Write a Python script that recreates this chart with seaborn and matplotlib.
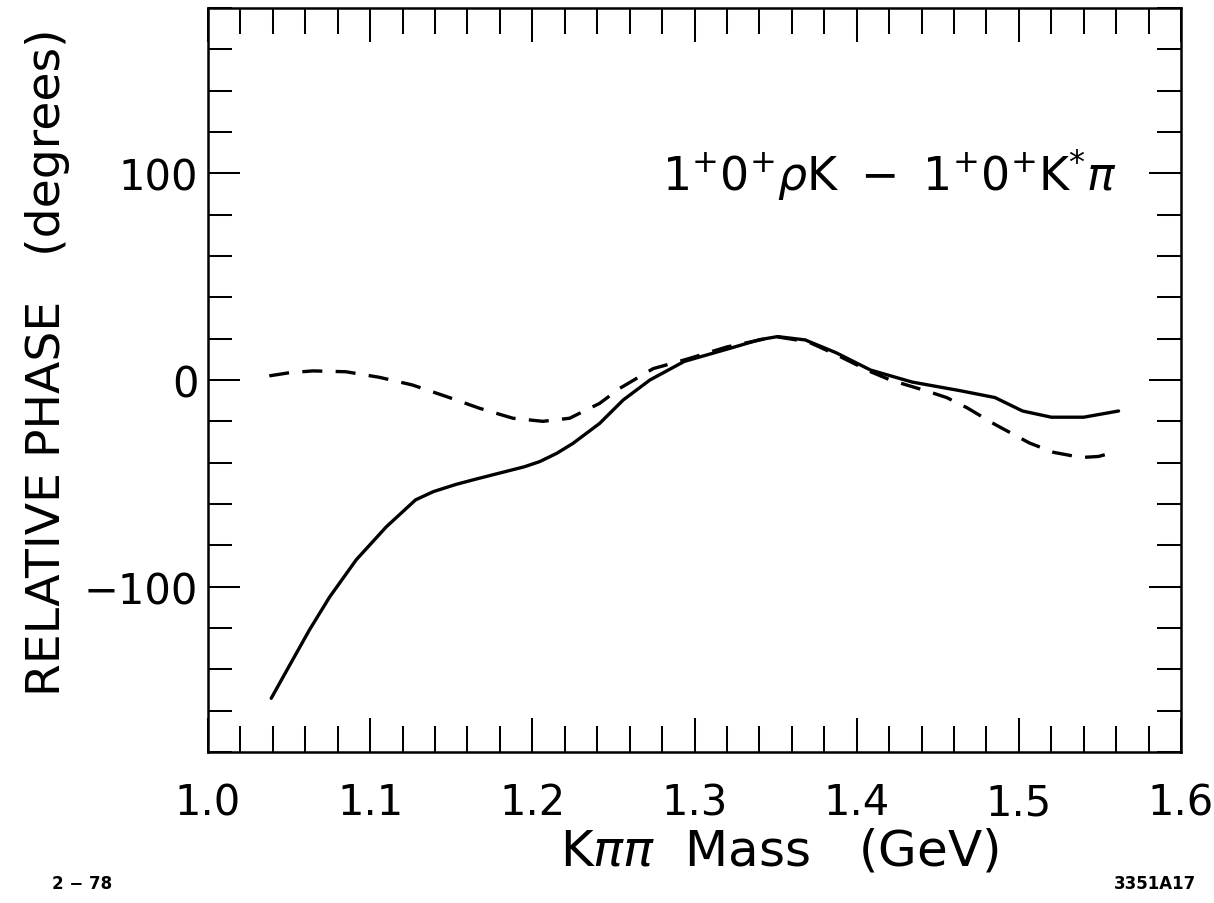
import matplotlib
matplotlib.use("Agg")
import matplotlib.pyplot as plt
from matplotlib.ticker import FixedLocator, MultipleLocator
import pandas as pd
import seaborn as sns

# ---- data ----
mass_solid = [1.039, 1.050, 1.0625, 1.075, 1.0914, 1.110, 1.128, 1.139, 1.153,
              1.165, 1.180, 1.195, 1.2045, 1.215, 1.225, 1.2415, 1.256, 1.2725,
              1.2937, 1.3235, 1.340, 1.3512, 1.3682, 1.3873, 1.4086, 1.4342,
              1.464, 1.4853, 1.5023, 1.520, 1.540, 1.5615]
phase_solid = [-154, -138.5, -121, -105, -87, -71, -58, -54, -50.5,
               -48, -45, -42, -39.5, -35.5, -30.7, -21, -9.7, 0,
               9, 15.7, 19.5, 21, 19.4, 13.2, 4.8, -1.0,
               -5.2, -8.5, -15.0, -18, -18, -15]

mass_dashed = [1.0378, 1.050, 1.0646, 1.085, 1.1057, 1.126, 1.147, 1.1675,
               1.188, 1.2065, 1.223, 1.2415, 1.254, 1.2745, 1.295, 1.320,
               1.350, 1.370, 1.3873, 1.4086, 1.4214, 1.4427, 1.4555, 1.4682,
               1.4853, 1.5066, 1.5214, 1.5385, 1.5491, 1.5608]
phase_dashed = [2, 3.5, 4.4, 4, 1.3, -2.4, -8, -13.7,
                -18.5, -20, -18.5, -11.3, -4, 5.5, 10, 16,
                21, 18.5, 12.3, 4.0, -0.2, -5.2, -8.5, -13.5,
                -21.5, -30.5, -35, -37.5, -37, -34.5]

x_major_ticks = [1.0, 1.1, 1.2, 1.3, 1.4, 1.5, 1.6]
x_tick_labels = ["1.0", "1.1", "1.2", "1.3", "1.4", "1.5", "1.6"]
y_major_ticks = [-100, 0, 100]
y_tick_labels = ["\u2212100", "0", "100"]

annotation = r"$\mathrm{1^{+}0^{+}}\rho\mathrm{K\ -\ 1^{+}0^{+}K^{*}}\pi$"
x_label = r"K$\pi\pi$  Mass   (GeV)"
y_label = "RELATIVE PHASE   (degrees)"

# ---- style ----
sns.set_theme(style="ticks")
plt.rcParams["font.family"] = ["DejaVu Sans"]
plt.rcParams["mathtext.fontset"] = "dejavusans"
plt.rcParams["mathtext.default"] = "it"

W, H = 1214, 904
fig = plt.figure(figsize=(W / 100, H / 100), dpi=100)
ax = fig.add_axes([208 / W, 1 - 753 / H, 973 / W, 744 / H])

df_s = pd.DataFrame({"mass": mass_solid, "phase": phase_solid})
df_d = pd.DataFrame({"mass": mass_dashed, "phase": phase_dashed})

sns.lineplot(data=df_s, x="mass", y="phase", ax=ax, color="black",
             linewidth=2.4, sort=False, estimator=None)
sns.lineplot(data=df_d, x="mass", y="phase", ax=ax, color="black",
             linewidth=2.4, sort=False, estimator=None,
             linestyle=(0, (6, 4)))

ax.set_xlim(1.0, 1.6)
ax.set_ylim(-180, 180)

ax.xaxis.set_major_locator(FixedLocator(x_major_ticks))
ax.set_xticklabels(x_tick_labels)
ax.xaxis.set_minor_locator(MultipleLocator(0.02))
ax.yaxis.set_major_locator(FixedLocator(y_major_ticks))
ax.set_yticklabels(y_tick_labels)
ax.yaxis.set_minor_locator(MultipleLocator(20))

ax.tick_params(which="both", direction="in", top=True, right=True,
               width=1.45, color="black", labelcolor="black")
ax.tick_params(axis="x", which="major", length=24.5, labelsize=30, pad=21)
ax.tick_params(axis="x", which="minor", length=18.7)
ax.tick_params(axis="y", which="major", length=23, labelsize=30, pad=7)
ax.tick_params(axis="y", which="minor", length=17.3)

for sp in ax.spines.values():
    sp.set_linewidth(1.8)
    sp.set_color("black")
    sp.set_visible(True)

ax.set_xlabel(x_label, fontsize=36, color="black")
ax.xaxis.label.set_va("center")
ax.xaxis.set_label_coords(0.587, -0.133)

ax.set_ylabel(y_label, fontsize=34, color="black")
ax.yaxis.label.set_va("center")
ax.yaxis.set_label_coords(-0.165, 0.525)

ax.text(0.934, 0.777, annotation, transform=ax.transAxes, ha="right",
        va="center", fontsize=33, color="black")

fig.text(82 / W, 1 - 884 / H, "2 \u2212 78", ha="center", va="center",
         fontsize=12, fontweight="bold", color="black")
fig.text(1155 / W, 1 - 884 / H, "3351A17", ha="center", va="center",
         fontsize=12, fontweight="bold", color="black")

fig.savefig("out.png", dpi=100, facecolor="white")
